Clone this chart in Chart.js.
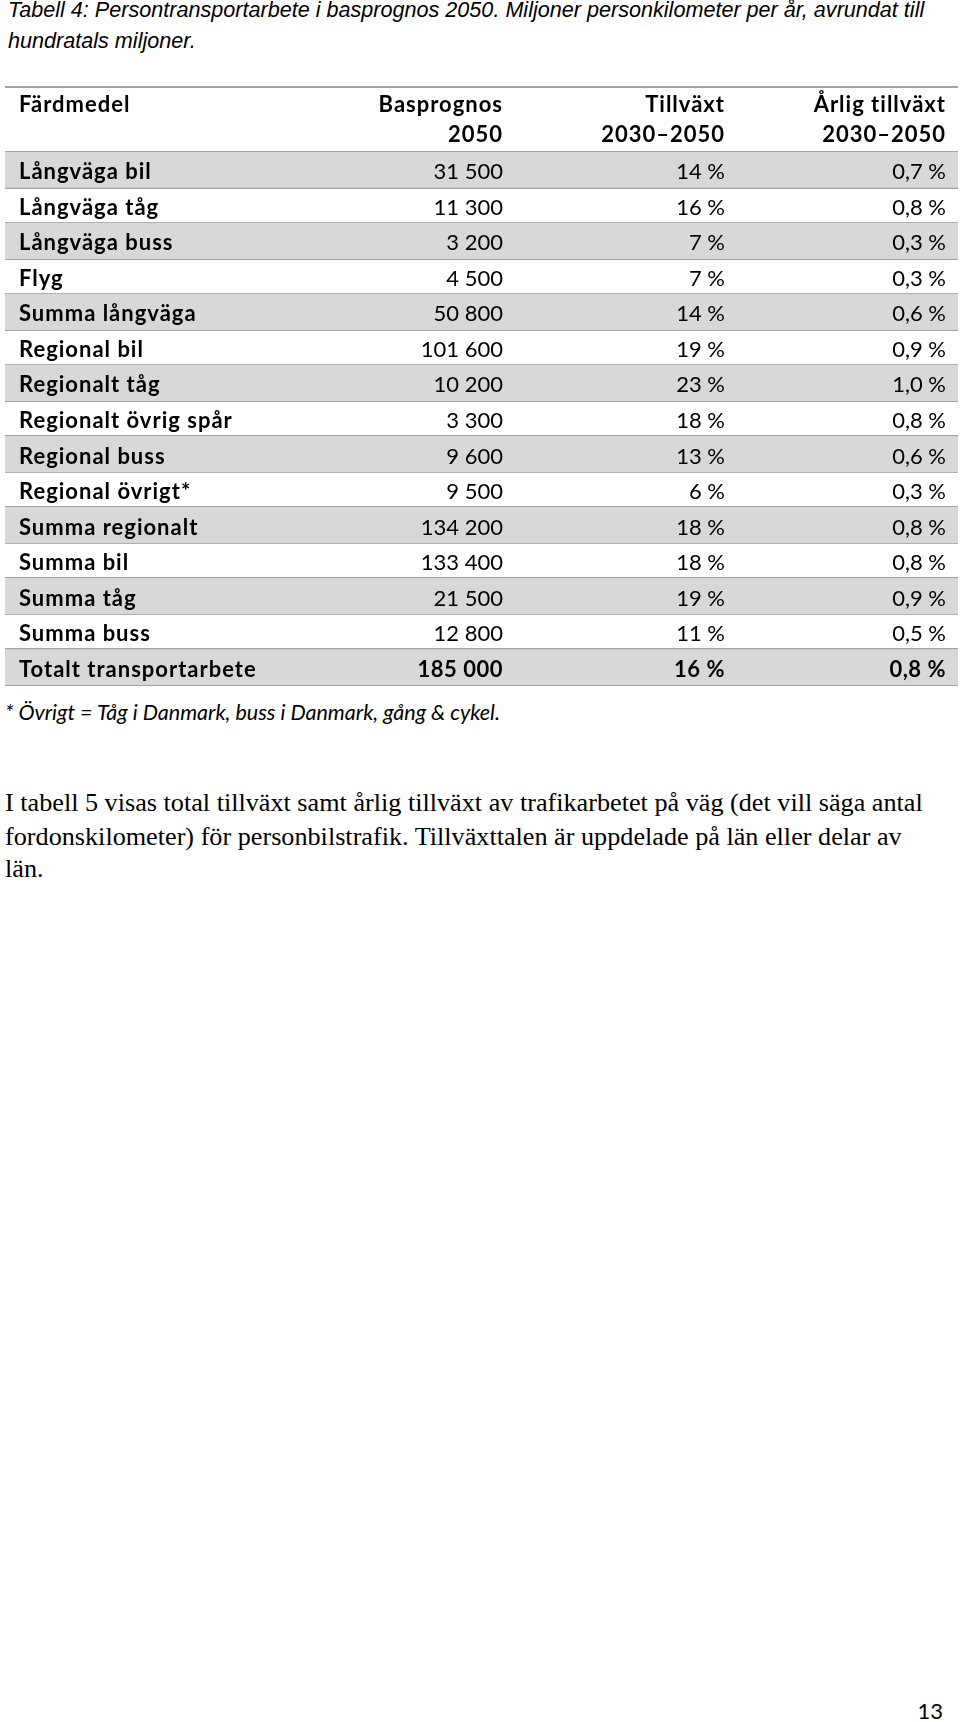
<!DOCTYPE html>
<html>
<head>
<meta charset="utf-8">
<script src="https://cdn.jsdelivr.net/npm/chart.js@4/dist/chart.umd.min.js"></script>
<style>
  body { margin: 0; background: #fff; width: 960px; height: 1722px; position: relative; overflow: hidden; }
  .cap { position: absolute; left: 8px; font: italic 21.6px "Liberation Sans", Arial, sans-serif; white-space: nowrap; color: #000; }
  .note { position: absolute; left: 5px; top: 699px; font: italic 21.5px Lato, sans-serif; white-space: nowrap; color: #000; }
  .para { position: absolute; left: 5px; font: 26.2px "Liberation Serif", serif; white-space: nowrap; color: #000; }
  .page { position: absolute; right: 17px; top: 1697px; font: 22px Lato, sans-serif; color: #000; }
  #table { position: absolute; left: 0; top: 80px; }
</style>
</head>
<body>
<div class="cap" style="top:-3px">Tabell 4: Persontransportarbete i basprognos 2050. Miljoner personkilometer per år, avrundat till</div>
<div class="cap" style="top:28px">hundratals miljoner.</div>

<canvas id="table" width="960" height="612"></canvas>

<div class="note">* Övrigt = Tåg i Danmark, buss i Danmark, gång &amp; cykel.</div>

<div class="para" style="top:788px">I tabell 5 visas total tillväxt samt årlig tillväxt av trafikarbetet på väg (det vill säga antal</div>
<div class="para" style="top:822px">fordonskilometer) för personbilstrafik. Tillväxttalen är uppdelade på län eller delar av</div>
<div class="para" style="top:854px">län.</div>

<div class="page">13</div>

<script>
// table data
const rows = [
  "Långväga bil", "Långväga tåg", "Långväga buss", "Flyg", "Summa långväga",
  "Regional bil", "Regionalt tåg", "Regionalt övrig spår", "Regional buss", "Regional övrigt*",
  "Summa regionalt", "Summa bil", "Summa tåg", "Summa buss", "Totalt transportarbete"
];
const basprognos2050 = [31500, 11300, 3200, 4500, 50800, 101600, 10200, 3300, 9600, 9500, 134200, 133400, 21500, 12800, 185000];
const tillvaxt = [14, 16, 7, 7, 14, 19, 23, 18, 13, 6, 18, 18, 19, 11, 16];
const arligTillvaxt = [0.7, 0.8, 0.3, 0.3, 0.6, 0.9, 1.0, 0.8, 0.6, 0.3, 0.8, 0.8, 0.9, 0.5, 0.8];
const headers1 = ["Färdmedel", "Basprognos", "Tillväxt", "Årlig tillväxt"];
const headers2 = ["", "2050", "2030–2050", "2030–2050"];

const fmtInt = (n) => String(n).replace(/\B(?=(\d{3})+(?!\d))/g, " ");
const fmtPct = (n) => n + " %";
const fmtDec = (n) => n.toFixed(1).replace(".", ",") + " %";

const FONT = "Lato, sans-serif";
const LINE = "#a3a3a3";
const SHADE = "#d8d8d8";

// x values of the column anchors (left text start, then right edges)
const colX = [14, 498, 720, 941];

const tableText = {
  id: "tableText",
  afterDraw(chart) {
    const { ctx, chartArea, scales } = chart;
    const x = scales.x, y = scales.y;
    ctx.save();
    ctx.strokeStyle = LINE;
    ctx.lineWidth = 2;
    ctx.beginPath();
    ctx.moveTo(chartArea.left, chartArea.top - 65);
    ctx.lineTo(chartArea.right, chartArea.top - 65);
    ctx.stroke();

    ctx.fillStyle = "#000";
    ctx.textBaseline = "alphabetic";
    ctx.font = "bold 22px " + FONT;
    ctx.letterSpacing = "1px";
    headers1.forEach((h, c) => {
      ctx.textAlign = c === 0 ? "left" : "right";
      ctx.fillText(h, x.getPixelForValue(colX[c]), chartArea.top - 40);
    });
    headers2.forEach((h, c) => {
      ctx.textAlign = c === 0 ? "left" : "right";
      ctx.fillText(h, x.getPixelForValue(colX[c]), chartArea.top - 10);
    });

    rows.forEach((r, i) => {
      const py = y.getPixelForValue(i) + 9.5;
      const last = i === rows.length - 1;
      ctx.font = "bold 22px " + FONT;
      ctx.letterSpacing = "1px";
      ctx.textAlign = "left";
      ctx.fillText(r, x.getPixelForValue(colX[0]), py);
      ctx.font = (last ? "bold " : "") + "22px " + FONT;
      ctx.letterSpacing = last ? "0.5px" : "0px";
      ctx.textAlign = "right";
      ctx.fillText(fmtInt(basprognos2050[i]), x.getPixelForValue(colX[1]), py);
      ctx.fillText(fmtPct(tillvaxt[i]), x.getPixelForValue(colX[2]), py);
      ctx.fillText(fmtDec(arligTillvaxt[i]), x.getPixelForValue(colX[3]), py);
    });
    ctx.restore();
  }
};

new Chart(document.getElementById("table"), {
  type: "bar",
  data: {
    labels: rows,
    datasets: [{
      data: rows.map((r, i) => (i % 2 === 0 ? [0, 953] : null)),
      backgroundColor: SHADE,
      borderWidth: 0,
      barPercentage: 1,
      categoryPercentage: 1
    }]
  },
  options: {
    indexAxis: "y",
    responsive: false,
    animation: false,
    devicePixelRatio: 1,
    layout: { padding: { top: 72, bottom: 7, left: 5, right: 2 } },
    plugins: { legend: { display: false }, tooltip: { enabled: false } },
    scales: {
      x: { type: "linear", min: 0, max: 953, display: false },
      y: {
        type: "category",
        offset: true,
        z: 1,
        grid: { offset: true, color: LINE, lineWidth: 2, drawTicks: false },
        border: { display: false },
        ticks: { display: false },
        afterFit: (s) => { s.width = 0; }
      }
    }
  },
  plugins: [tableText]
});
</script>
</body>
</html>
